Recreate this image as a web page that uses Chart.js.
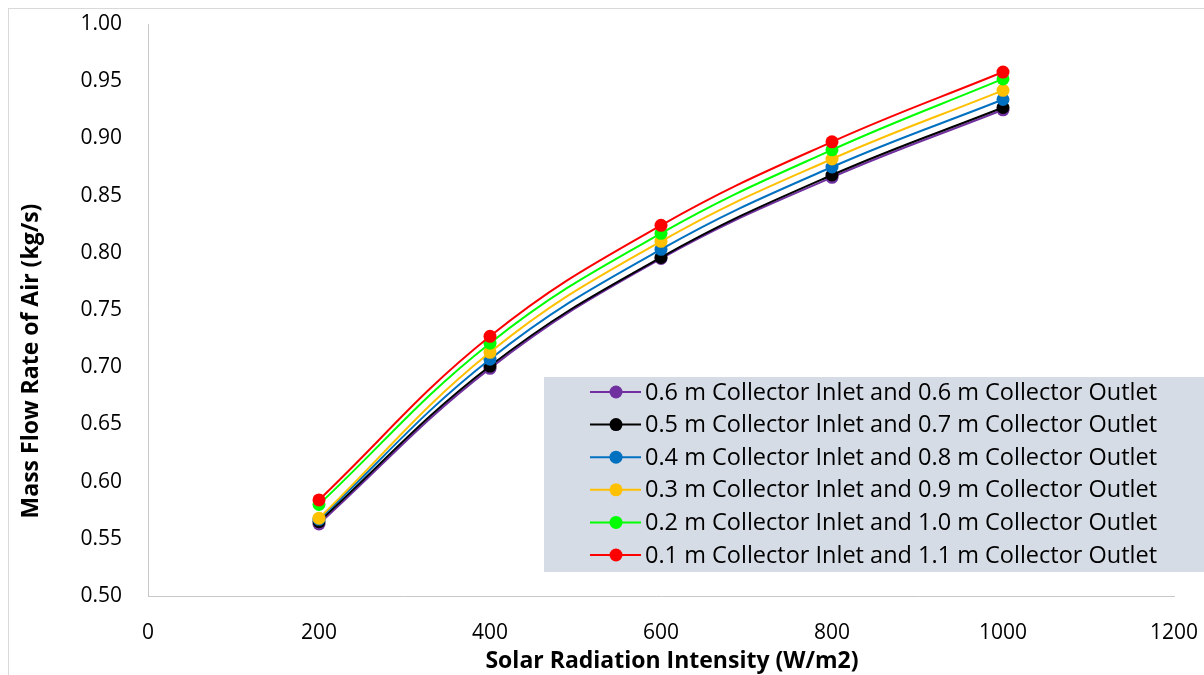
<!DOCTYPE html>
<html>
<head>
<meta charset="utf-8">
<script src="https://cdn.jsdelivr.net/npm/chart.js@4"></script>
<style>
  html, body { margin: 0; padding: 0; background: #ffffff; }
  #wrap { width: 1204px; height: 675px; position: relative; }
</style>
</head>
<body>
<div id="wrap"><canvas id="flowChart"></canvas></div>
<script>
// Solar radiation intensity (W/m2)
const radiation = [200, 400, 600, 800, 1000];

// Mass flow rate of air (kg/s) for each inlet/outlet combination
const seriesLabels = [
    '0.6 m Collector Inlet and 0.6 m Collector Outlet',
    '0.5 m Collector Inlet and 0.7 m Collector Outlet',
    '0.4 m Collector Inlet and 0.8 m Collector Outlet',
    '0.3 m Collector Inlet and 0.9 m Collector Outlet',
    '0.2 m Collector Inlet and 1.0 m Collector Outlet',
    '0.1 m Collector Inlet and 1.1 m Collector Outlet'
];
const flow06_06 = [0.563, 0.699, 0.795, 0.866, 0.925];
const flow05_07 = [0.565, 0.701, 0.796, 0.868, 0.927];
const flow04_08 = [0.567, 0.707, 0.803, 0.875, 0.934];
const flow03_09 = [0.568, 0.713, 0.810, 0.882, 0.942];
const flow02_10 = [0.580, 0.721, 0.817, 0.890, 0.952];
const flow01_11 = [0.584, 0.727, 0.824, 0.897, 0.958];
const seriesColors = ['#7030a0', '#000000', '#0070c0', '#ffc000', '#00ff00', '#ff0000'];

const yTicks = { min: 0.5, max: 1.0, step: 0.05 };
const xTicks = { min: 0, max: 1200, step: 200 };

const allSeries = [flow06_06, flow05_07, flow04_08, flow03_09, flow02_10, flow01_11];

const FONT = '"Open Sans", Lato, sans-serif';

const datasets = allSeries.map((vals, i) => ({
    label: seriesLabels[i],
    data: radiation.map((x, j) => ({ x: x, y: vals[j] })),
    borderColor: seriesColors[i],
    backgroundColor: seriesColors[i],
    pointBackgroundColor: seriesColors[i],
    pointBorderColor: seriesColors[i],
    borderWidth: 2,
    pointRadius: 6.5,
    pointBorderWidth: 0,
    tension: 0.4,
    order: allSeries.length - i   // last series drawn on top
}));

// chart frame, axis titles and the legend panel
const decorations = {
    id: 'decorations',
    beforeDraw(chart) {
        const ctx = chart.ctx;
        ctx.save();
        ctx.strokeStyle = '#d9d9d9';
        ctx.lineWidth = 1;
        ctx.strokeRect(8.5, 8.5, chart.width, chart.height);
        ctx.restore();
    },
    afterDraw(chart) {
        const ctx = chart.ctx;
        ctx.save();

        // axis titles
        ctx.fillStyle = '#000000';
        ctx.font = 'bold 23px ' + FONT;
        ctx.textAlign = 'center';
        ctx.textBaseline = 'middle';
        ctx.fillText('Solar Radiation Intensity (W/m2)', 672, 661);
        ctx.translate(31, 361);
        ctx.rotate(-Math.PI / 2);
        ctx.fillText('Mass Flow Rate of Air (kg/s)', 0, 0);
        ctx.setTransform(1, 0, 0, 1, 0, 0);

        // legend panel
        const boxX = 544, boxY = 377;
        ctx.fillStyle = '#d6dce5';
        ctx.fillRect(boxX, boxY, chart.width - boxX, 195);
        ctx.font = '23.5px ' + FONT;
        ctx.textAlign = 'left';
        chart.data.datasets.forEach((ds, i) => {
            const y = 392 + i * 32.6;
            ctx.strokeStyle = ds.borderColor;
            ctx.lineWidth = 2;
            ctx.beginPath();
            ctx.moveTo(590, y);
            ctx.lineTo(641, y);
            ctx.stroke();
            ctx.fillStyle = ds.borderColor;
            ctx.beginPath();
            ctx.arc(616, y, 6.5, 0, Math.PI * 2);
            ctx.fill();
            ctx.fillStyle = '#000000';
            ctx.fillText(ds.label, 645, y + 1);
        });
        ctx.restore();
    }
};

new Chart(document.getElementById('flowChart'), {
    type: 'line',
    data: { datasets: datasets },
    options: {
        responsive: true,
        maintainAspectRatio: false,
        animation: false,
        layout: { padding: { top: 24, right: 30, left: 0, bottom: 0 } },
        plugins: {
            legend: { display: false },
            tooltip: { enabled: false }
        },
        scales: {
            x: {
                type: 'linear',
                min: xTicks.min,
                max: xTicks.max,
                grid: { display: false, drawTicks: false },
                border: { display: true, color: '#c8c8c8', width: 1 },
                ticks: {
                    stepSize: xTicks.step,
                    color: '#000000',
                    padding: 24,
                    maxRotation: 0,
                    font: { family: FONT, size: 21 },
                    callback: v => String(v)
                },
                afterFit(scale) {
                    scale.height = 79;
                    scale.paddingLeft = 0;
                    scale.paddingRight = 0;
                }
            },
            y: {
                min: yTicks.min,
                max: yTicks.max,
                grid: { display: false, drawTicks: false },
                border: { display: true, color: '#c8c8c8', width: 1 },
                ticks: {
                    stepSize: yTicks.step,
                    color: '#000000',
                    padding: 26,
                    font: { family: FONT, size: 21 },
                    callback: v => v.toFixed(2)
                },
                afterFit(scale) {
                    scale.width = 148;
                    scale.paddingTop = 0;
                    scale.paddingBottom = 0;
                }
            }
        }
    },
    plugins: [decorations]
});
</script>
</body>
</html>
